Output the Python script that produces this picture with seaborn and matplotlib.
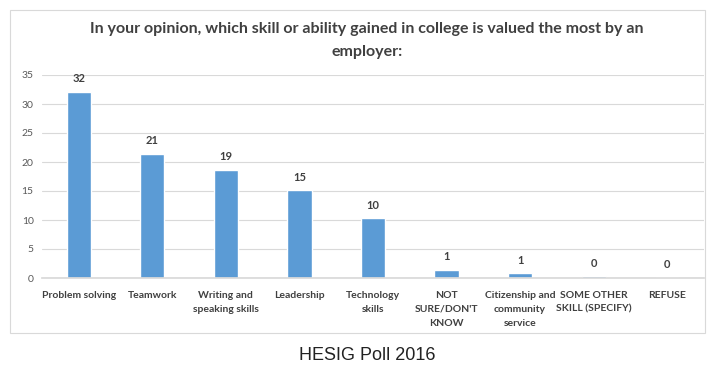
import matplotlib
matplotlib.use("Agg")
import matplotlib.pyplot as plt
import seaborn as sns
import pandas as pd
from matplotlib.patches import Rectangle

categories = ["Problem solving", "Teamwork", "Writing and\nspeaking skills", "Leadership",
              "Technology\nskills", "NOT\nSURE/DON'T\nKNOW", "Citizenship and\ncommunity\nservice",
              "SOME OTHER\nSKILL (SPECIFY)", "REFUSE"]
values = [32.1, 21.4, 18.7, 15.1, 10.3, 1.4, 0.8, 0.3, 0.1]
value_labels = ["32", "21", "19", "15", "10", "1", "1", "0", "0"]
yticks = [0, 5, 10, 15, 20, 25, 30, 35]

sns.set_theme(style="white")
plt.rcParams['font.family'] = ['Lato', 'DejaVu Sans']

df = pd.DataFrame({"cat": categories, "val": values})

fig = plt.figure(figsize=(7.09, 3.66), dpi=100)
ax = fig.add_axes([42/709, 1 - 278/366, 662/709, (278 - 75)/366])

sns.barplot(data=df, x="cat", y="val", color="#5B9BD5", width=0.33, saturation=1, ax=ax)

ax.set_ylim(0, 35)
ax.set_yticks(yticks)
ax.set_yticklabels([str(t) for t in yticks], fontsize=7.5, color="#595959")
ax.yaxis.grid(True, color="#D9D9D9", linewidth=0.8)
ax.set_axisbelow(True)
for s in ax.spines.values():
    s.set_visible(False)
ax.spines['bottom'].set_visible(True)
ax.spines['bottom'].set_color("#D9D9D9")
ax.tick_params(axis='y', length=0, pad=6)
ax.tick_params(axis='x', length=0, pad=9)
ax.set_xticks(range(len(categories)))
ax.set_xticklabels(categories, fontsize=7.5, color="#404040", fontweight="bold", linespacing=1.75, va="top")
ax.set_xlabel("")
ax.set_ylabel("")

for i, (v, lab) in enumerate(zip(values, value_labels)):
    ax.text(i, v + 1.3, lab, ha="center", va="bottom", fontsize=8, fontweight="bold", color="#404040")

tx = 367/709
fig.text(tx, 1 - 29/366, "In your opinion, which skill or ability gained in college is valued the most by an",
         ha="center", va="center", fontsize=11.5, fontweight="bold", color="#404040")
fig.text(tx, 1 - 52/366, "employer:", ha="center", va="center", fontsize=11.5, fontweight="bold", color="#404040")

fig.patches.append(Rectangle((10/709, 1 - 333/366), 695/709, 323/366, transform=fig.transFigure,
                             fill=False, edgecolor="#D9D9D9", linewidth=0.8))

fig.text(367/709, 1 - 355/366, "HESIG Poll 2016", ha="center", va="center", fontsize=13,
         color="#222222", family=["Liberation Sans", "DejaVu Sans"])

fig.savefig("out.png", dpi=100)
